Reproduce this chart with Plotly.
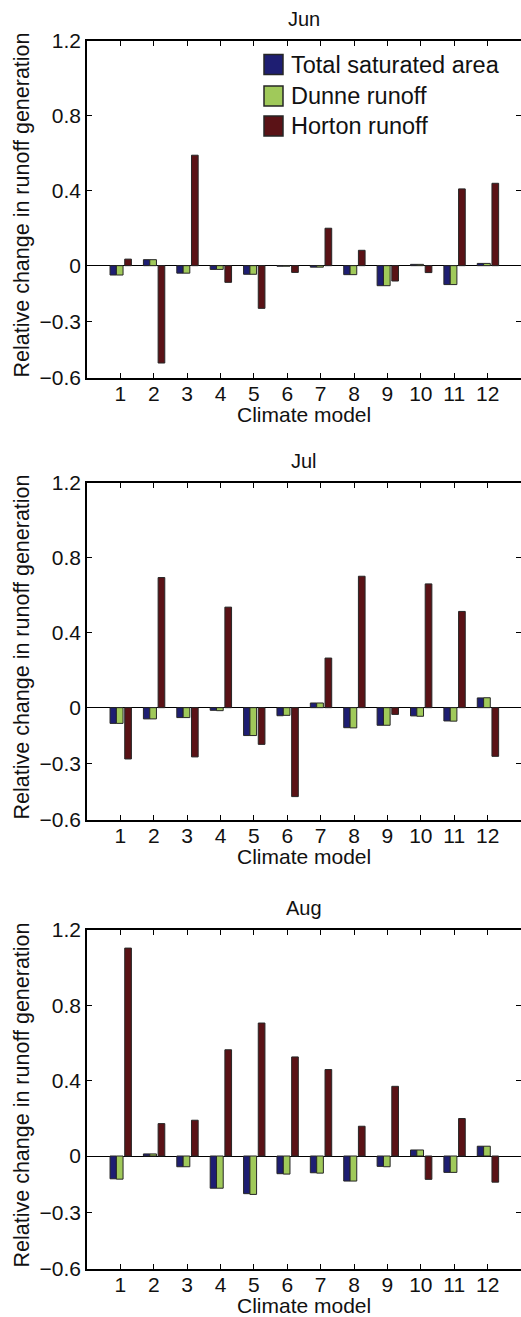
import plotly.graph_objects as go

models = list(range(1, 13))
months = ["Jun", "Jul", "Aug"]
series_names = ["Total saturated area", "Dunne runoff", "Horton runoff"]

jun_total = [-0.05, 0.032, -0.04, -0.02, -0.046, -0.003, -0.008, -0.048, -0.107, 0.007, -0.101, 0.012]
jun_dunne = [-0.05, 0.032, -0.04, -0.02, -0.046, -0.003, -0.008, -0.048, -0.107, 0.007, -0.101, 0.012]
jun_horton = [0.035, -0.52, 0.59, -0.089, -0.228, -0.036, 0.2, 0.082, -0.082, -0.037, 0.41, 0.44]

jul_total = [-0.084, -0.06, -0.053, -0.014, -0.149, -0.043, 0.025, -0.107, -0.094, -0.044, -0.071, 0.052]
jul_dunne = [-0.084, -0.06, -0.053, -0.016, -0.149, -0.041, 0.025, -0.108, -0.094, -0.046, -0.072, 0.053]
jul_horton = [-0.274, 0.695, -0.263, 0.537, -0.196, -0.475, 0.265, 0.702, -0.036, 0.661, 0.514, -0.26]

aug_total = [-0.121, 0.011, -0.057, -0.171, -0.2, -0.094, -0.089, -0.133, -0.055, 0.032, -0.087, 0.052]
aug_dunne = [-0.123, 0.011, -0.057, -0.171, -0.204, -0.096, -0.091, -0.133, -0.057, 0.032, -0.087, 0.052]
aug_horton = [1.104, 0.172, 0.19, 0.564, 0.706, 0.526, 0.459, 0.158, 0.37, -0.124, 0.199, -0.139]

y_tickvals = [-0.6, -0.3, 0, 0.4, 0.8, 1.2]
y_ticktext = ["\u22120.6", "\u22120.3", "0", "0.4", "0.8", "1.2"]

data = [
    (jun_total, jun_dunne, jun_horton),
    (jul_total, jul_dunne, jul_horton),
    (aug_total, aug_dunne, aug_horton),
]

W, H = 521, 1317
FONT = "Liberation Sans, Arial, Helvetica, sans-serif"
colors = ["#1e1e72", "#a0c95a", "#5a1216"]
offsets = [-0.31, -0.12, 0.13]
widths = [0.19, 0.2, 0.2]

panels_px = [(41, 378), (483, 820), (930, 1269)]
x_left_px = 87

fig = go.Figure()
layout = dict(
    width=W, height=H, autosize=False,
    margin=dict(l=0, r=0, t=0, b=0, pad=0, autoexpand=False),
    paper_bgcolor="white", plot_bgcolor="white",
    barmode="overlay", showlegend=False,
    font=dict(family=FONT, size=20, color="#111"),
)
annotations = []
shapes = []

for i, (month, series) in enumerate(zip(months, data)):
    sfx = "" if i == 0 else str(i + 1)
    top, bot = panels_px[i]
    for k, vals in enumerate(series):
        fig.add_trace(go.Bar(
            x=models, y=vals, name=series_names[k],
            xaxis="x" + sfx, yaxis="y" + sfx,
            offset=offsets[k], width=widths[k],
            marker=dict(color=colors[k], line=dict(color="#262626", width=1)),
            showlegend=False,
        ))
    layout["xaxis" + sfx] = dict(
        domain=[x_left_px / W, 1.0], range=[0, 13], anchor="y" + sfx,
        tickvals=models, ticktext=[str(m) for m in models],
        ticks="inside", ticklen=5, tickcolor="black", tickwidth=1,
        showline=True, linecolor="black", linewidth=1.5, mirror="ticks",
        showgrid=False, zeroline=False, automargin=False,
        tickfont=dict(size=21, family=FONT, color="#111"),
        ticklabelstandoff=-4,
    )
    layout["yaxis" + sfx] = dict(
        domain=[1 - bot / H, 1 - top / H], range=[-0.6, 1.2], anchor="x" + sfx,
        tickvals=y_tickvals, ticktext=y_ticktext,
        ticks="inside", ticklen=5, tickcolor="black", tickwidth=1,
        showline=True, linecolor="black", linewidth=1.5, mirror="ticks",
        showgrid=False, zeroline=True, zerolinecolor="black", zerolinewidth=1,
        automargin=False,
        tickfont=dict(size=21, family=FONT, color="#111"),
    )
    cx = (x_left_px + W) / 2 / W
    annotations.append(dict(text=month, x=cx, y=1 - (top - 22) / H, xref="paper", yref="paper",
                            xanchor="center", yanchor="middle", showarrow=False,
                            font=dict(size=20, family=FONT, color="#111")))
    annotations.append(dict(text="Climate model", x=cx, y=1 - (bot + 36) / H, xref="paper", yref="paper",
                            xanchor="center", yanchor="middle", showarrow=False,
                            font=dict(size=21, family=FONT, color="#111")))
    annotations.append(dict(text="Relative change in runoff generation", x=21 / W, y=1 - ((top + bot) / 2 - 4) / H,
                            xref="paper", yref="paper", textangle=-90,
                            xanchor="center", yanchor="middle", showarrow=False,
                            font=dict(size=21.5, family=FONT, color="#111")))

legend_rows_px = [64.5, 96, 126]
for k, yc in enumerate(legend_rows_px):
    shapes.append(dict(type="rect", xref="paper", yref="paper",
                       x0=264 / W, x1=283 / W, y0=1 - (yc + 10) / H, y1=1 - (yc - 10) / H,
                       fillcolor=colors[k], line=dict(color="#262626", width=1.5)))
    annotations.append(dict(text=series_names[k], x=289 / W, y=1 - yc / H, xref="paper", yref="paper",
                            xanchor="left", yanchor="middle", showarrow=False,
                            font=dict(size=23.5, family=FONT, color="#111")))

layout["annotations"] = annotations
layout["shapes"] = shapes
fig.update_layout(**layout)
fig.write_html("out.html", config={"displayModeBar": False})
